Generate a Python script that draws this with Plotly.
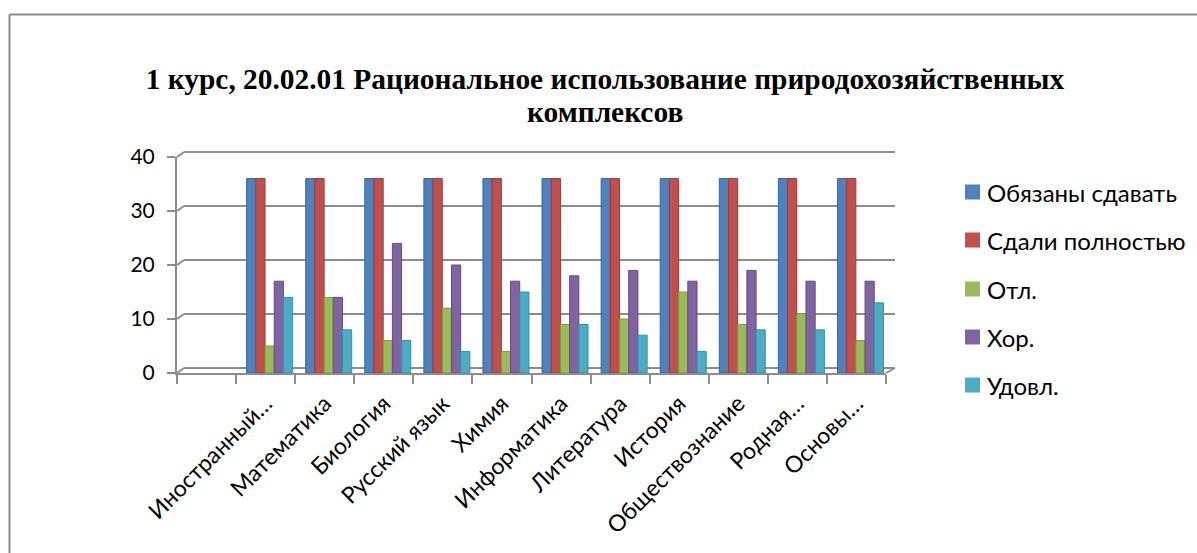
import plotly.graph_objects as go

categories = ["", "Иностранный…", "Математика", "Биология", "Русский язык", "Химия",
              "Информатика", "Литература", "История", "Обществознание", "Родная…", "Основы…"]
series_names = ["Обязаны сдавать", "Сдали полностью", "Отл.", "Хор.", "Удовл."]
obliged = [None, 36, 36, 36, 36, 36, 36, 36, 36, 36, 36, 36]
passed = [None, 36, 36, 36, 36, 36, 36, 36, 36, 36, 36, 36]
excellent = [None, 5, 14, 6, 12, 4, 9, 10, 15, 9, 11, 6]
good = [None, 17, 14, 24, 20, 17, 18, 19, 17, 19, 17, 17]
satisf = [None, 14, 8, 6, 4, 15, 9, 7, 4, 8, 8, 13]
colors = ["#4F81BD", "#C0504D", "#9BBB59", "#8064A2", "#4BACC6"]
line_colors = ["#3A6597", "#9A3B38", "#7A9A42", "#634C82", "#3490A8"]
y_ticks = [0, 10, 20, 30, 40]
title_lines = ["1 курс, 20.02.01 Рациональное использование природохозяйственных", "комплексов"]

FONT = "Lato, 'Noto Sans', sans-serif"
TITLE_FONT = "'Liberation Serif', 'Times New Roman', serif"
AXIS_GREY = "#8c8c8c"

# plot-area geometry (pixels)
W, H = 1197, 553
L, R, T, B = 177, 886, 157, 373
pw, ph = R - L, B - T
DX, DY = 7, 5          # 3-D depth offset of the back wall


def px_x(x):
    return (x - L) / pw


def px_y(y):
    return (B - y) / ph


fig = go.Figure()
n = len(series_names)
slot = pw / len(categories)
bar_w = 9.2 / slot
shift = 4 / slot
for i, (name, vals) in enumerate(zip(series_names, [obliged, passed, excellent, good, satisf])):
    fig.add_trace(go.Bar(
        x=categories, y=vals, name=name,
        width=bar_w, offset=-n * bar_w / 2 + i * bar_w + shift,
        marker=dict(color=colors[i], line=dict(color=line_colors[i], width=1)),
        showlegend=False,
    ))

fig.update_layout(
    width=W, height=H,
    margin=dict(l=L, r=W - R, t=T, b=H - B, pad=0),
    paper_bgcolor="white", plot_bgcolor="white",
    barmode="overlay",
    title=dict(
        text="<b>" + title_lines[0] + "</b>",
        font=dict(family=TITLE_FONT, size=29.4, color="black"),
        x=605 / W, xanchor="center", y=1 - 79 / H, yanchor="middle",
    ),
    font=dict(family=FONT, color="black"),
    showlegend=False,
)
fig.add_annotation(text="<b>" + title_lines[1] + "</b>", xref="paper", yref="paper",
                   x=px_x(605), y=px_y(112), xanchor="center", yanchor="middle",
                   showarrow=False, font=dict(family=TITLE_FONT, size=29.4, color="black"))

fig.update_xaxes(
    type="category", categoryorder="array", categoryarray=categories,
    range=[-0.5, len(categories) - 0.5],
    tickangle=-45, tickfont=dict(family=FONT, size=23, color="black"),
    showline=True, linecolor=AXIS_GREY, linewidth=2,
    ticks="outside", ticklen=9, tickcolor=AXIS_GREY, tickwidth=2,
    tickson="boundaries", showgrid=False, ticklabelstandoff=6,
)
fig.update_yaxes(
    range=[0, 40], tickvals=y_ticks,
    tickfont=dict(family=FONT, size=21, color="black"),
    showline=True, linecolor=AXIS_GREY, linewidth=2,
    ticks="outside", ticklen=8, tickcolor=AXIS_GREY, tickwidth=2,
    showgrid=False, zeroline=False, ticklabelstandoff=8,
)

# back wall gridlines with 3-D elbows
x_back_end = px_x(895)
for v in y_ticks:
    yf = v / 40
    yb = yf + DY / ph
    fig.add_shape(type="line", xref="paper", yref="paper", layer="below",
                  x0=0, y0=yf, x1=DX / pw, y1=yb,
                  line=dict(color=AXIS_GREY, width=2))
    fig.add_shape(type="line", xref="paper", yref="paper", layer="below",
                  x0=DX / pw, y0=yb, x1=x_back_end, y1=yb,
                  line=dict(color=AXIS_GREY, width=2))
# floor right edge
fig.add_shape(type="line", xref="paper", yref="paper", layer="below",
              x0=1, y0=0, x1=x_back_end, y1=DY / ph,
              line=dict(color=AXIS_GREY, width=2))

# legend (manual, to match the spacing of the original)
legend_y = [192, 240, 289, 337, 385]
for name, col, ly in zip(series_names, colors, legend_y):
    fig.add_shape(type="rect", xref="paper", yref="paper",
                  x0=px_x(965), x1=px_x(980), y0=px_y(ly + 7.5), y1=px_y(ly - 7.5),
                  fillcolor=col, line=dict(width=0))
    fig.add_annotation(text=name, xref="paper", yref="paper",
                       x=px_x(985), y=px_y(ly), xanchor="left", yanchor="middle",
                       showarrow=False, font=dict(family=FONT, size=24, color="black"))

# outer chart frame
fig.add_shape(type="line", xref="paper", yref="paper",
              x0=px_x(9.5), y0=px_y(560), x1=px_x(9.5), y1=px_y(14.5),
              line=dict(color="#8a8a8a", width=2))
fig.add_shape(type="line", xref="paper", yref="paper",
              x0=px_x(9.5), y0=px_y(14.5), x1=px_x(1205), y1=px_y(14.5),
              line=dict(color="#8a8a8a", width=2))

fig.write_html("out.html", config={"displayModeBar": False},
               post_script="document.body.style.margin='0';document.body.style.padding='0';")
